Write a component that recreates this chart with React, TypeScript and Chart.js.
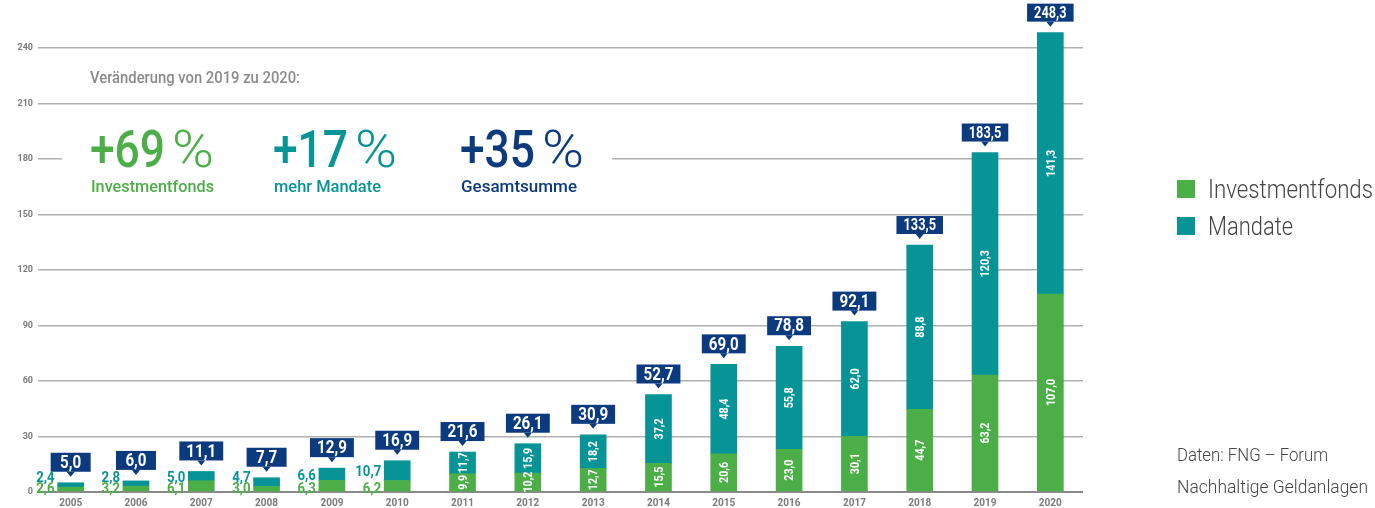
import React, { useEffect, useRef } from "react";
import { Chart, registerables } from "chart.js";

Chart.register(...registerables);

const years = ["2005","2006","2007","2008","2009","2010","2011","2012","2013","2014","2015","2016","2017","2018","2019","2020"];
const investmentfonds = [2.6, 3.2, 6.1, 3.0, 6.3, 6.2, 9.9, 10.2, 12.7, 15.5, 20.6, 23.0, 30.1, 44.7, 63.2, 107.0];
const mandate = [2.4, 2.8, 5.0, 4.7, 6.6, 10.7, 11.7, 15.9, 18.2, 37.2, 48.4, 55.8, 62.0, 88.8, 120.3, 141.3];
const totals = [5.0, 6.0, 11.1, 7.7, 12.9, 16.9, 21.6, 26.1, 30.9, 52.7, 69.0, 78.8, 92.1, 133.5, 183.5, 248.3];
const yTicks = [0, 30, 60, 90, 120, 150, 180, 210, 240];
const seriesNames = ["Investmentfonds", "Mandate"];
const changeIntro = "Veränderung von 2019 zu 2020:";
const changes = [
  { value: "+69", label: "Investmentfonds" },
  { value: "+17", label: "mehr Mandate" },
  { value: "+35", label: "Gesamtsumme" },
];
const sourceLines = ["Daten: FNG – Forum", "Nachhaltige Geldanlagen"];

const GREEN = "#4bae47";
const TEAL = "#079496";
const NAVY = "#0c3a7e";
const FONT = "Roboto, 'Noto Sans', sans-serif";
const COND = 0.8;

const fmt = (v: number) => v.toFixed(1).replace(".", ",");

function drawText(ctx: any, t: string, x: number, y: number, font: string, opts: { sx?: number; width?: number; align?: string; base?: string } = {}) {
  ctx.save();
  ctx.font = font;
  ctx.textAlign = opts.align || "left";
  ctx.textBaseline = opts.base || "alphabetic";
  let sx = opts.sx ?? COND;
  if (opts.width) sx = opts.width / ctx.measureText(t).width;
  ctx.translate(x, y);
  ctx.scale(sx, 1);
  ctx.fillText(t, 0, 0);
  ctx.restore();
}

const overlayPlugin = {
  id: "overlay",
  beforeDatasetsDraw(chart: any) {
    const ctx = chart.ctx;
    const y = chart.scales.y.getPixelForValue(180);
    ctx.save();
    ctx.fillStyle = "#ffffff";
    ctx.fillRect(62, y - 3, 550, 6);
    ctx.restore();
  },
  afterDatasetsDraw(chart: any) {
    const ctx = chart.ctx;
    const m0 = chart.getDatasetMeta(0);
    const m1 = chart.getDatasetMeta(1);
    const base = chart.scales.y.getPixelForValue(0);
    for (let i = 0; i < years.length; i++) {
      const b0 = m0.data[i];
      const b1 = m1.data[i];
      const x = b1.x;
      const top = b1.y;
      const txt = fmt(totals[i]);
      const big = totals[i] < 100;
      const font = `bold ${big ? 19 : 16}px ${FONT}`;
      ctx.save();
      ctx.font = font;
      const tw = ctx.measureText(txt).width * COND;
      ctx.restore();
      const w = Math.max(40, tw + 14);
      const h = big ? 19 : 18;
      const bb = top - 11;
      ctx.save();
      ctx.fillStyle = NAVY;
      ctx.fillRect(x - w / 2, bb - h, w, h);
      ctx.beginPath();
      ctx.moveTo(x - 4, bb);
      ctx.lineTo(x + 4, bb);
      ctx.lineTo(x, bb + 5);
      ctx.closePath();
      ctx.fill();
      ctx.fillStyle = "#ffffff";
      drawText(ctx, txt, x, bb - h / 2 + 1, font, { align: "center", base: "middle" });
      ctx.restore();

      if (totals[i] < 20) {
        const left = x - b1.width / 2 - 3;
        const f = `bold 15px ${FONT}`;
        const midTeal = (b1.y + b1.base) / 2;
        ctx.save();
        ctx.fillStyle = TEAL;
        drawText(ctx, fmt(mandate[i]), left, Math.min(midTeal + 2, base - 14), f, { align: "right", base: "middle", sx: 0.88 });
        ctx.fillStyle = GREEN;
        drawText(ctx, fmt(investmentfonds[i]), left, base - 3, f, { align: "right", base: "middle", sx: 0.88 });
        ctx.restore();
      } else {
        const segs = [
          { v: investmentfonds[i], b: b0 },
          { v: mandate[i], b: b1 },
        ];
        for (const s of segs) {
          const cy = (s.b.y + s.b.base) / 2;
          ctx.save();
          ctx.fillStyle = "#ffffff";
          ctx.translate(x + 1, cy);
          ctx.rotate(-Math.PI / 2);
          drawText(ctx, fmt(s.v), 0, 0, `bold 13px ${FONT}`, { align: "center", base: "middle", sx: 0.82 });
          ctx.restore();
        }
      }
    }
  },
  afterDraw(chart: any) {
    const ctx = chart.ctx;
    ctx.save();
    ctx.fillStyle = "#8a8a8a";
    drawText(ctx, changeIntro, 90, 83, `500 17px ${FONT}`, { width: 210 });
    const xs = [90, 273, 460];
    const cols = [GREEN, TEAL, NAVY];
    const labelW = [123, 107, 116];
    changes.forEach((c, k) => {
      ctx.fillStyle = cols[k];
      drawText(ctx, c.value, xs[k], 167, `500 52px ${FONT}`, { width: 75 });
      drawText(ctx, "%", xs[k] + 82, 167, `300 52px ${FONT}`, { width: 42 });
      drawText(ctx, c.label, xs[k] + 1, 192, `500 17px ${FONT}`, { width: labelW[k] });
    });
    const lc = [GREEN, TEAL];
    const lw = [165, 85];
    seriesNames.forEach((n, k) => {
      const cy = 189 + k * 37;
      ctx.fillStyle = lc[k];
      ctx.fillRect(1177, cy - 9, 18, 18);
      ctx.fillStyle = "#444444";
      drawText(ctx, n, 1208, cy + 9, `300 26px ${FONT}`, { width: lw[k] });
    });
    ctx.fillStyle = "#444444";
    const sw = [151, 191];
    sourceLines.forEach((s, k) => drawText(ctx, s, 1177, 461 + k * 32, `300 19px ${FONT}`, { width: sw[k] }));
    ctx.restore();
  },
};

export default function App() {
  const ref = useRef<HTMLCanvasElement>(null);
  useEffect(() => {
    document.body.style.margin = "0";
    const chart = new Chart(ref.current as HTMLCanvasElement, {
      type: "bar",
      data: {
        labels: years,
        datasets: [
          { label: seriesNames[0], data: investmentfonds, backgroundColor: GREEN, barThickness: 26, clip: false as any },
          { label: seriesNames[1], data: mandate, backgroundColor: TEAL, barThickness: 26, clip: false as any },
        ],
      },
      options: {
        responsive: false,
        animation: false,
        layout: { padding: { top: 48, right: 292, left: 0, bottom: 0 } },
        plugins: { legend: { display: false }, tooltip: { enabled: false }, title: { display: false } },
        scales: {
          x: {
            stacked: true,
            grid: { display: false, drawTicks: false, tickLength: 0 },
            border: { display: false },
            ticks: { color: "#7a7a7a", font: { family: FONT, size: 10, weight: "bold" }, padding: 5, maxRotation: 0 },
            afterFit: (s: any) => { s.height = 16; },
          },
          y: {
            stacked: true,
            min: 0,
            max: 240,
            afterBuildTicks: (s: any) => { s.ticks = yTicks.map((v) => ({ value: v })); },
            grid: {
              drawTicks: false,
              tickLength: 0,
              color: (c: any) => (c.tick && c.tick.value === 0 ? "#8a8a8a" : "#b0b0b0"),
              lineWidth: (c: any) => (c.tick && c.tick.value === 0 ? 2 : 1.5),
            },
            border: { display: false },
            ticks: { color: "#7a7a7a", font: { family: FONT, size: 9, weight: "bold" }, padding: 5 },
            afterFit: (s: any) => { s.width = 38; },
          },
        },
      },
      plugins: [overlayPlugin],
    });
    return () => chart.destroy();
  }, []);
  return <canvas ref={ref} width={1375} height={508} style={{ display: "block", width: 1375, height: 508 }} />;
}
